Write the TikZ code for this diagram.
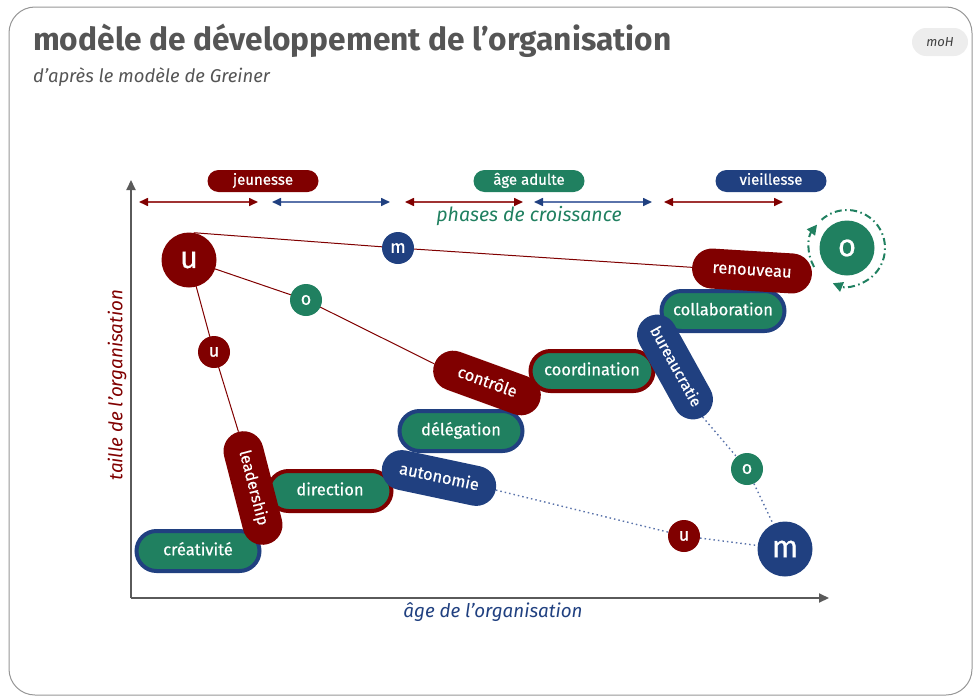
\documentclass[tikz,border=0pt]{standalone}
\usepackage{fontspec}
\setmainfont{Fira Sans}
\newfontfamily\medfont{Fira Sans}[FakeBold=0.5]
\usetikzlibrary{arrows.meta,shapes.misc}
\definecolor{dred}{RGB}{128,0,0}
\definecolor{lred}{RGB}{160,50,50}
\definecolor{dgreen}{RGB}{32,128,96}
\definecolor{dblue}{RGB}{32,64,128}
\definecolor{lblue}{RGB}{90,115,170}
\definecolor{axgray}{RGB}{90,90,90}
\definecolor{titlegray}{RGB}{85,85,85}
\definecolor{framegray}{RGB}{150,150,150}
\pgfdeclarelayer{bg}
\pgfsetlayers{bg,main}
\begin{document}
\begin{tikzpicture}[x=1pt,y=-1pt,
  pilltext/.style={text=white,font=\medfont\fontsize{16.5}{18}\selectfont,text height=11.5pt,text depth=3pt,inner sep=0pt},
  gpill/.style={rounded rectangle,fill=dgreen,draw=#1,line width=4pt,minimum height=40pt,minimum width=123pt,pilltext},
  rpill/.style={rounded rectangle,fill=#1,minimum height=40pt,pilltext},
  bigc/.style={circle,fill=#1,minimum size=55pt,inner sep=0pt,text=white,font=\medfont\fontsize{31}{31}\selectfont},
  smc/.style={circle,fill=#1,minimum size=32pt,inner sep=0pt,text=white,font=\medfont\fontsize{18}{18}\selectfont},
  phase/.style={rounded rectangle,fill=#1,minimum width=111pt,minimum height=22pt,inner sep=0pt,text=white,font=\medfont\fontsize{15}{15}\selectfont,text height=10pt,text depth=2.5pt},
  rline/.style={dred,line width=1pt},
  bline/.style={lblue,line width=1.4pt,dash pattern=on 1.5pt off 3pt},
  parrR/.style={lred,line width=1.6pt,{Triangle[length=9pt,width=8pt,color=dred]}-{Triangle[length=9pt,width=8pt,color=dred]}},
  parrB/.style={lblue,line width=1.6pt,{Triangle[length=9pt,width=8pt,color=dblue]}-{Triangle[length=9pt,width=8pt,color=dblue]}},
  axis/.style={axgray,line width=2pt,-{Triangle[length=10pt,width=9pt]}},
  cyc/.style={dgreen,line width=2pt,dash pattern=on 7pt off 3.5pt on 1.5pt off 3.5pt,-{Triangle[length=10pt,width=10pt]}}
]
\useasboundingbox (0,0) rectangle (974,696);
% frame
\coordinate (f1) at (9,7);
\coordinate (f2) at (972,695);
\draw[framegray,line width=1pt,rounded corners=26pt] (f1) rectangle (f2);

% title
\node[anchor=base west,inner sep=0pt,text=titlegray,font=\fontsize{31.7}{32}\selectfont\bfseries] (title) at (33,50) {modèle de développement de l’organisation};
\node[anchor=base west,inner sep=0pt,text=titlegray,font=\itshape\fontsize{18.5}{20}\selectfont] (sub) at (33,82) {d’après le modèle de Greiner};
\node[rounded rectangle,fill=black!7,minimum width=56pt,minimum height=28pt,inner sep=0pt,text=black!75,font=\itshape\fontsize{13}{14}\selectfont] (moh) at (940,42) {moH};

% axes
\coordinate (orig) at (131,598);
\coordinate (ytop) at (131,180);
\coordinate (xend) at (829,598);
\draw[axis] (orig) -- (ytop);
\draw[axis] (orig) -- (xend);
\node[rotate=90,text=dred,font=\itshape\fontsize{18.8}{20}\selectfont] (ylab) at (117,385) {taille de l’organisation};
\node[text=dblue,font=\itshape\fontsize{18.8}{20}\selectfont] (xlab) at (493,612) {âge de l’organisation};

% phases
\node[phase=dred] (jeu) at (263,181) {jeunesse};
\node[phase=dgreen] (adu) at (529,181) {âge adulte};
\node[phase=dblue] (vie) at (771,181) {vieillesse};
\coordinate (a1) at (139,202); \coordinate (a2) at (258,202);
\coordinate (b1) at (272,202); \coordinate (b2) at (390,202);
\coordinate (c1) at (405,202); \coordinate (c2) at (523,202);
\coordinate (d1) at (534,202); \coordinate (d2) at (652,202);
\coordinate (e1) at (664,202); \coordinate (e2) at (783,202);
\draw[parrR] (a1) -- (a2);
\draw[parrB] (b1) -- (b2);
\draw[parrR] (c1) -- (c2);
\draw[parrB] (d1) -- (d2);
\draw[parrR] (e1) -- (e2);
\node[text=dgreen,font=\itshape\fontsize{19.5}{20}\selectfont] (phc) at (529,216) {phases de croissance};

% pills
\node[gpill=dblue] (cre) at (198,551) {créativité};
\node[gpill=dred] (dir) at (330,491) {direction};
\node[rpill=dred,rotate=-75.5,minimum width=116pt,font=\medfont\fontsize{16}{18}\selectfont] (lead) at (253,488) {leadership};
\node[gpill=dblue] (deleg) at (461,431) {délégation};
\node[gpill=dred] (coord) at (592,371) {coordination};
\node[rpill=dred,rotate=-20,minimum width=112pt] (ctrl) at (487,383) {contrôle};
\node[rpill=dblue,rotate=-12,minimum width=116pt] (auto) at (439,478) {autonomie};
\node[gpill=dblue] (coll) at (723,311) {collaboration};
\node[rpill=dblue,rotate=-61,minimum width=114pt,font=\medfont\fontsize{15.5}{18}\selectfont] (bur) at (675,367) {bureaucratie};
\node[rpill=dred,rotate=-3.5,minimum width=120pt] (ren) at (752,271) {renouveau};

% circles
\node[bigc=dred] (U) at (189,260) {u};
\node[smc=dblue] (Mt) at (398,248) {m};
\node[smc=dgreen] (Ot) at (306,300) {o};
\node[smc=dred] (Us) at (214,352) {u};
\node[bigc=dgreen] (Ob) at (847,248) {o};
\node[bigc=dblue] (Mb) at (785,549) {m};
\node[smc=dred] (Ur) at (684,536) {u};
\node[smc=dgreen] (Og) at (747,469) {o};

% cycle arrows around big o
\draw[cyc] (Ob.center) ++(-132:38) arc[start angle=-132,end angle=112,radius=38];
\draw[cyc] (Ob.center) ++(150:38) arc[start angle=150,end angle=218,radius=38];

% connectors
\begin{pgfonlayer}{bg}
\draw[rline] (U.80) -- (Mt.center) -- (ren.west);
\draw[rline] (U.center) -- (Ot.center) -- (ctrl.west);
\draw[rline] (U.center) -- (Us.center) -- (lead.west);
\draw[bline] (auto.east) -- (Ur) -- (Mb);
\draw[bline] (bur.east) -- (Og) -- (Mb);
\end{pgfonlayer}
\end{tikzpicture}
\end{document}
